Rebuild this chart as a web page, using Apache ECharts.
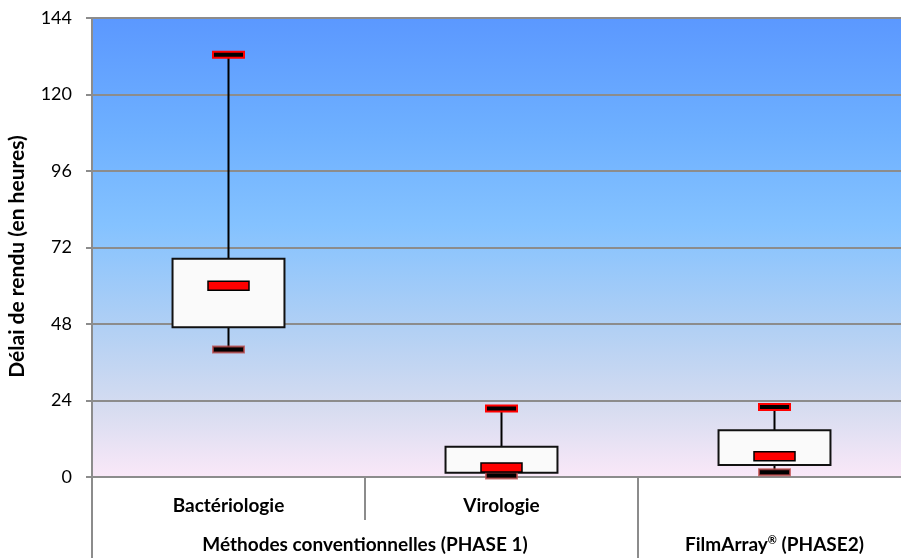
<!DOCTYPE html>
<html>
<head>
<meta charset="utf-8">
<script src="https://cdn.jsdelivr.net/npm/echarts@6/dist/echarts.min.js"></script>
<style>html,body{margin:0;padding:0;background:#fff}#c{width:901px;height:558px}</style>
</head>
<body>
<div id="c"></div>
<script>
const categories = ['Bactériologie', 'Virologie', ''];
const groupLabels = ['Méthodes conventionnelles (PHASE 1)', 'FilmArray{sup|®} (PHASE2)'];
const groupLabelPos = [1, 2.5];
const groupSeparators = [0, 2];
const minVals = [40, 0.5, 1.5];
const q1Vals = [47, 1.3, 3.8];
const medianVals = [60, 3, 6.5];
const q3Vals = [68.5, 9.5, 14.7];
const maxVals = [132.5, 21.5, 22];
const yMin = 0, yMax = 144, yStep = 24;

const FONT = 'Lato';
const chart = echarts.init(document.getElementById('c'), null, {renderer: 'canvas'});
const data = categories.map((c, i) => [i, minVals[i], q1Vals[i], medianVals[i], q3Vals[i], maxVals[i]]);

function renderItem(params, api) {
  const i = api.value(0);
  const band = api.size([1, 0])[0];
  const pMin = api.coord([i, api.value(1)]);
  const pQ1 = api.coord([i, api.value(2)]);
  const pMed = api.coord([i, api.value(3)]);
  const pQ3 = api.coord([i, api.value(4)]);
  const pMax = api.coord([i, api.value(5)]);
  const cx = pMin[0];
  const bw = band * 0.41;
  const mw = 31, mh = 6;
  const medW = 41, medH = 9;
  return {
    type: 'group',
    children: [
      {type: 'line', shape: {x1: cx, y1: pMin[1], x2: cx, y2: pMax[1]}, style: {stroke: '#000', lineWidth: 2}},
      {type: 'rect', shape: {x: cx - bw / 2, y: pQ3[1], width: bw, height: pQ1[1] - pQ3[1]}, style: {fill: '#fafafa', stroke: '#111', lineWidth: 2}},
      {type: 'rect', shape: {x: cx - mw / 2, y: pMin[1] - mh / 2, width: mw, height: mh}, style: {fill: '#000', stroke: 'rgba(190,70,70,0.75)', lineWidth: 2}},
      {type: 'rect', shape: {x: cx - mw / 2, y: pMax[1] - mh / 2, width: mw, height: mh}, style: {fill: '#000', stroke: '#ff0000', lineWidth: 2}},
      {type: 'rect', shape: {x: cx - medW / 2, y: pMed[1] - medH / 2, width: medW, height: medH}, style: {fill: '#ff0000', stroke: '#000', lineWidth: 1.5}}
    ]
  };
}

chart.setOption({
  animation: false,
  grid: {
    left: 92, right: -10, top: 18, bottom: 81,
    outerBoundsMode: 'none', containLabel: false,
    show: true, borderWidth: 0,
    backgroundColor: new echarts.graphic.LinearGradient(0, 0, 0, 1, [
      {offset: 0, color: '#5b98ff'},
      {offset: 0.25, color: '#6eb0ff'},
      {offset: 0.45, color: '#84c2ff'},
      {offset: 0.68, color: '#b2d0f4'},
      {offset: 0.85, color: '#d6dcf0'},
      {offset: 1, color: '#fae8f8'}
    ])
  },
  xAxis: [
    {
      type: 'category', data: categories, position: 'bottom',
      axisLine: {show: true, lineStyle: {color: '#8c8c8c', width: 2}},
      axisTick: {show: true, length: 43, alignWithLabel: false, lineStyle: {color: '#8c8c8c', width: 2}},
      axisLabel: {margin: 19, color: '#000', fontFamily: FONT, fontWeight: 'bold', fontSize: 19},
      splitLine: {show: false}
    },
    {
      type: 'value', min: 0, max: 3, position: 'bottom', offset: 0,
      axisLine: {show: false},
      axisTick: {show: true, length: 85, customValues: groupSeparators, lineStyle: {color: '#8c8c8c', width: 2}},
      axisLabel: {show: true, margin: 58, customValues: groupLabelPos, color: '#000', fontFamily: FONT, fontWeight: 'bold', fontSize: 19,
        rich: {sup: {fontFamily: FONT, fontWeight: 'bold', fontSize: 11, verticalAlign: 'top', padding: [0, 0, 8, 0], color: '#000'}},
        formatter: v => { const k = groupLabelPos.indexOf(v); return k >= 0 ? groupLabels[k] : ''; }},
      splitLine: {show: false}
    }
  ],
  yAxis: {
    type: 'value', min: yMin, max: yMax, interval: yStep,
    name: 'Délai de rendu (en heures)', nameLocation: 'middle', nameGap: 64,
    nameTextStyle: {fontFamily: FONT, fontWeight: 'bold', fontSize: 21, color: '#000', padding: [0, 18, 0, 0]},
    axisLine: {show: true, lineStyle: {color: '#8c8c8c', width: 2}},
    axisTick: {show: true, length: 6, lineStyle: {color: '#8c8c8c', width: 2}},
    axisLabel: {margin: 20, color: '#000', fontFamily: FONT, fontSize: 18},
    splitLine: {show: true, lineStyle: {color: '#8c8c8c', width: 2}}
  },
  series: [{
    type: 'custom', xAxisIndex: 0, yAxisIndex: 0,
    renderItem: renderItem, data: data, clip: false,
    encode: {x: 0, y: [1, 2, 3, 4, 5]}
  }]
});
</script>
</body>
</html>
